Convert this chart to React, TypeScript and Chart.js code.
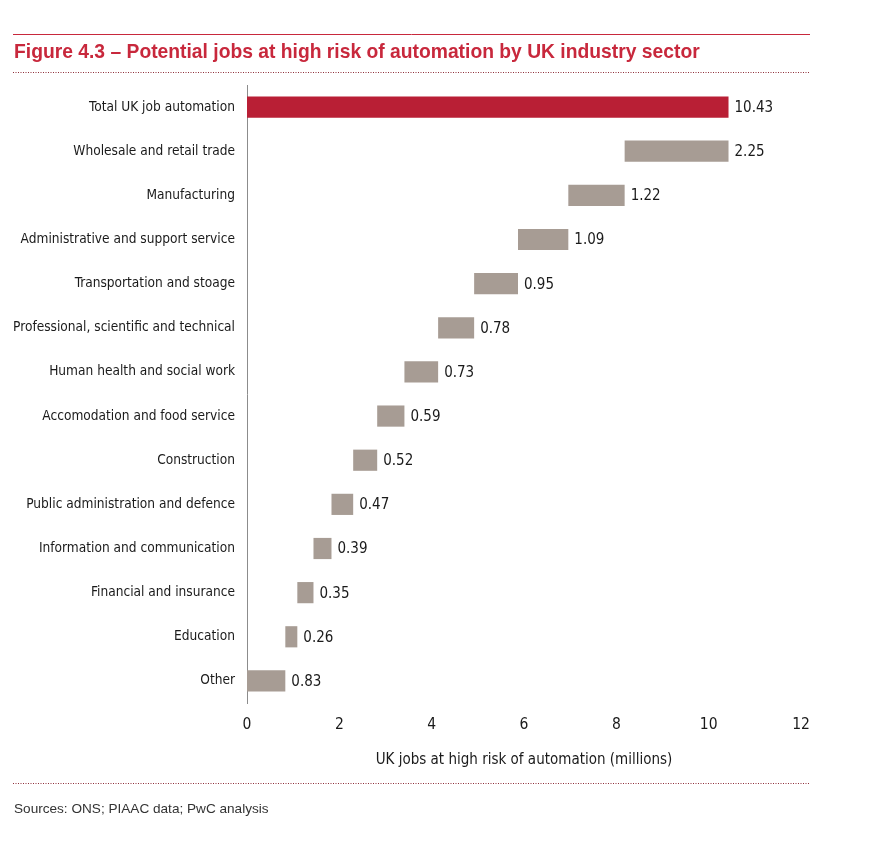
import React, { useEffect, useRef } from "react";
import { Chart, registerables } from "chart.js";

Chart.register(...registerables);

const titleText = "Figure 4.3 – Potential jobs at high risk of automation by UK industry sector";
const sourceText = "Sources: ONS; PIAAC data; PwC analysis";
const axisTitle = "UK jobs at high risk of automation (millions)";

const totalLabel = "Total UK job automation";
const totalValue = 10.43;

const sectorLabels = [
  "Wholesale and retail trade",
  "Manufacturing",
  "Administrative and support service",
  "Transportation and stoage",
  "Professional, scientific and technical",
  "Human health and social work",
  "Accomodation and food service",
  "Construction",
  "Public administration and defence",
  "Information and communication",
  "Financial and insurance",
  "Education",
  "Other",
];
const sectorValues = [2.25, 1.22, 1.09, 0.95, 0.78, 0.73, 0.59, 0.52, 0.47, 0.39, 0.35, 0.26, 0.83];

const xMin = 0;
const xMax = 12;
const xStep = 2;

const RED = "#b91f35";
const GREY = "#a79c94";
const TITLE_RED = "#c8283c";
const NARROW = '"Liberation Sans Narrow", "Arial Narrow", "DejaVu Sans Condensed", sans-serif';
const SANS = '"Liberation Sans", Arial, sans-serif';

export default function App() {
  const ref = useRef<HTMLCanvasElement | null>(null);

  useEffect(() => {
    const canvas = ref.current;
    if (!canvas) return;

    const labels = [totalLabel, ...sectorLabels];
    const values = [totalValue, ...sectorValues];
    const ranges: [number, number][] = [[0, totalValue]];
    for (let i = 0; i < sectorValues.length; i++) {
      let start = 0;
      for (let j = i + 1; j < sectorValues.length; j++) start += sectorValues[j];
      ranges.push([start, start + sectorValues[i]]);
    }
    const colors = labels.map((_, i) => (i === 0 ? RED : GREY));

    const decor = {
      id: "decor",
      afterDraw(chart: any) {
        const ctx = chart.ctx;
        ctx.save();
        // top solid line
        ctx.strokeStyle = TITLE_RED;
        ctx.lineWidth = 1;
        ctx.beginPath();
        ctx.moveTo(13, 34.5);
        ctx.lineTo(810, 34.5);
        ctx.stroke();
        // title
        ctx.fillStyle = TITLE_RED;
        ctx.font = `bold 19.3px ${SANS}`;
        ctx.textBaseline = "alphabetic";
        ctx.textAlign = "left";
        ctx.fillText(titleText, 14, 58);
        // dotted lines
        ctx.strokeStyle = "#8e2f3a";
        ctx.setLineDash([1, 1.5]);
        ctx.beginPath();
        ctx.moveTo(13, 72.5);
        ctx.lineTo(810, 72.5);
        ctx.moveTo(13, 783.5);
        ctx.lineTo(810, 783.5);
        ctx.stroke();
        ctx.setLineDash([]);
        // source
        ctx.fillStyle = "#333333";
        ctx.font = `13.6px ${SANS}`;
        ctx.fillText(sourceText, 14, 813);
        ctx.restore();
      },
      afterDatasetsDraw(chart: any) {
        const ctx = chart.ctx;
        const meta = chart.getDatasetMeta(0);
        ctx.save();
        ctx.fillStyle = "#1a1a1a";
        ctx.font = `15px ${NARROW}`;
        ctx.textBaseline = "middle";
        ctx.textAlign = "left";
        meta.data.forEach((el: any, i: number) => {
          const right = Math.max(el.x, el.base);
          ctx.fillText(values[i].toFixed(2), right + 6, el.y + 1);
        });
        ctx.restore();
      },
    };

    const chart = new Chart(canvas, {
      type: "bar",
      data: {
        labels,
        datasets: [
          {
            data: ranges as any,
            backgroundColor: colors,
            borderWidth: 0,
            barPercentage: 0.48,
            categoryPercentage: 1,
          },
        ],
      },
      options: {
        indexAxis: "y",
        responsive: false,
        animation: false,
        layout: { padding: { left: 0, right: 77, top: 85, bottom: 80 } },
        plugins: {
          legend: { display: false },
          tooltip: { enabled: false },
          title: { display: false },
        },
        scales: {
          x: {
            min: xMin,
            max: xMax,
            grid: { display: false, drawTicks: false },
            border: { display: false },
            ticks: {
              stepSize: xStep,
              padding: 13,
              color: "#1a1a1a",
              font: { family: NARROW, size: 15.5 },
            },
            title: {
              display: true,
              text: axisTitle,
              color: "#1a1a1a",
              font: { family: NARROW, size: 15 },
              padding: { top: 4, bottom: 4 },
            },
            afterFit(scale: any) {
              scale.height = 70;
            },
          },
          y: {
            grid: { display: false, drawTicks: false },
            border: { display: true, color: "#8c8c8c", width: 1 },
            ticks: {
              padding: 12,
              color: "#1a1a1a",
              font: { family: NARROW, size: 13.6 },
            },
            afterFit(scale: any) {
              scale.width = 247;
            },
          },
        },
      },
      plugins: [decor],
    });

    return () => chart.destroy();
  }, []);

  return (
    <div style={{ position: "absolute", left: 0, top: 0, width: 878, height: 853, background: "#fff" }}>
      <canvas ref={ref} width={878} height={853} style={{ display: "block" }} />
    </div>
  );
}
